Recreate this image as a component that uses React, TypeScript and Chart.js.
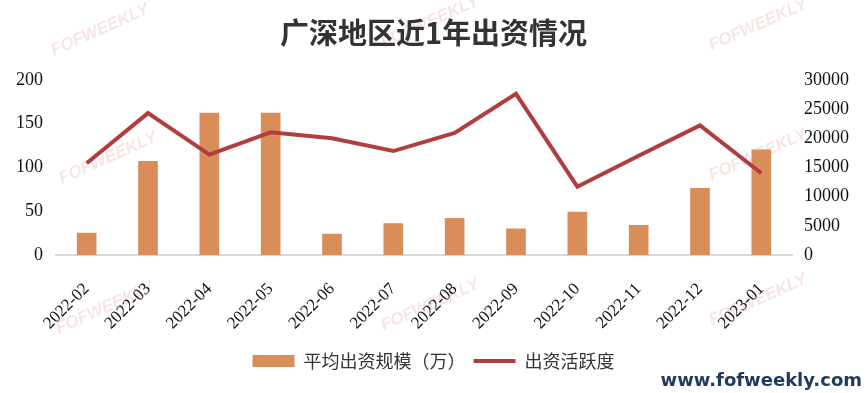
import React, { useEffect, useRef } from "react";
import { Chart, registerables } from "chart.js";

Chart.register(...registerables);

const categories = ["2022-02","2022-03","2022-04","2022-05","2022-06","2022-07","2022-08","2022-09","2022-10","2022-11","2022-12","2023-01"];
const avgScale = [25, 107, 162, 162, 24, 36, 42, 30, 49, 34, 76, 120];
const activity = [15700, 24300, 17200, 21000, 20000, 17800, 20900, 27600, 11700, 17000, 22200, 14000];
const leftTicks = [0, 50, 100, 150, 200];
const rightTicks = [0, 5000, 10000, 15000, 20000, 25000, 30000];

const BAR = "#d98e5a";
const LINE = "#b23d3d";
const SERIF = "'Liberation Serif', 'DejaVu Serif', serif";
const SANS = "'Noto Sans CJK SC', 'Noto Sans', sans-serif";

const watermark = {
  id: "watermark",
  beforeDraw(chart: any) {
    const ctx = chart.ctx;
    ctx.save();
    ctx.fillStyle = "#fff";
    ctx.fillRect(0, 0, chart.width, chart.height);
    const spots = [[100, 30], [430, 22], [758, 25], [108, 158], [758, 155], [105, 308], [430, 305], [758, 300]];
    ctx.font = "italic bold 17px 'Liberation Sans', Arial, sans-serif";
    ctx.fillStyle = "rgba(225,160,160,0.28)";
    ctx.textAlign = "center";
    ctx.textBaseline = "middle";
    for (const [x, y] of spots) {
      ctx.save();
      ctx.translate(x, y);
      ctx.rotate(-0.42);
      ctx.fillText("FOFWEEKLY", 0, 0);
      ctx.restore();
    }
    ctx.restore();
  },
  afterDraw(chart: any) {
    const ctx = chart.ctx;
    ctx.save();
    ctx.font = "bold 18px 'DejaVu Sans', Verdana, sans-serif";
    ctx.fillStyle = "#1f3a5f";
    ctx.textAlign = "right";
    ctx.textBaseline = "middle";
    ctx.fillText("www.fofweekly.com", 862, 381);
    ctx.restore();
  },
};

export default function App() {
  const ref = useRef<HTMLCanvasElement>(null);
  useEffect(() => {
    if (!ref.current) return;
    const chart = new Chart(ref.current, {
      type: "bar",
      data: {
        labels: categories,
        datasets: [
          {
            type: "bar",
            label: "平均出资规模（万）",
            data: avgScale,
            backgroundColor: BAR,
            borderWidth: 0,
            yAxisID: "y",
            barThickness: 19,
            pointStyle: "rect",
            order: 2,
          } as any,
          {
            type: "line",
            label: "出资活跃度",
            data: activity,
            borderColor: LINE,
            backgroundColor: LINE,
            borderWidth: 4,
            pointRadius: 0,
            pointStyle: "line",
            tension: 0,
            yAxisID: "y1",
            order: 1,
          } as any,
        ],
      },
      options: {
        animation: false,
        responsive: false,
        maintainAspectRatio: false,
        layout: { padding: { left: 0, right: 0, top: 0, bottom: 13 } },
        plugins: {
          title: {
            display: true,
            text: "广深地区近1年出资情况",
            color: "#333333",
            font: { family: SANS, size: 29, weight: "bold" },
            padding: { top: 16, bottom: 29 },
          },
          legend: {
            position: "bottom",
            labels: {
              usePointStyle: true,
              pointStyleWidth: 42,
              boxHeight: 12,
              color: "#333",
              font: { family: SANS, size: 18 },
              padding: 8,
              sort: (a: any, b: any) => a.datasetIndex - b.datasetIndex,
            },
          },
          tooltip: { enabled: false },
        },
        scales: {
          x: {
            grid: { display: false },
            border: { display: true, color: "#d9d9d9", width: 2 },
            ticks: {
              color: "#111",
              font: { family: SERIF, size: 17 },
              maxRotation: 45,
              minRotation: 45,
              padding: 16,
            },
            afterFit: (s: any) => { s.height = 89; },
          },
          y: {
            position: "left",
            min: 0,
            max: 200,
            afterBuildTicks: (s: any) => { s.ticks = leftTicks.map((v) => ({ value: v })); },
            grid: { display: false },
            border: { display: false },
            ticks: { color: "#111", font: { family: SERIF, size: 18 }, padding: 5 },
            afterFit: (s: any) => { s.width = 56; },
          },
          y1: {
            position: "right",
            min: 0,
            max: 30000,
            afterBuildTicks: (s: any) => { s.ticks = rightTicks.map((v) => ({ value: v })); },
            grid: { display: false },
            border: { display: false },
            ticks: {
              color: "#111",
              font: { family: SERIF, size: 18 },
              padding: 4,
              callback: (v: any) => String(v),
            },
            afterFit: (s: any) => { s.width = 75; },
          },
        },
      },
      plugins: [watermark],
    } as any);
    return () => chart.destroy();
  }, []);
  return (
    <div style={{ position: "fixed", left: 0, top: 0, width: 867, height: 393, background: "#fff" }}>
      <canvas ref={ref} width={867} height={393} style={{ display: "block" }} />
    </div>
  );
}
